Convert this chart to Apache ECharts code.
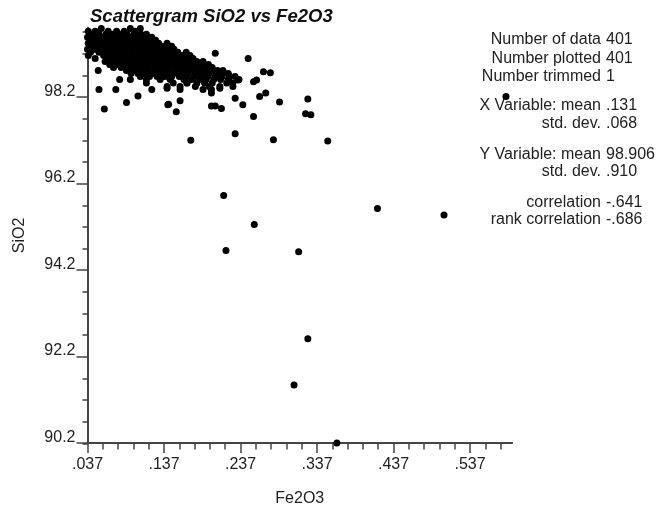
<!DOCTYPE html>
<html>
<head>
<meta charset="utf-8">
<script src="https://cdn.jsdelivr.net/npm/echarts@6/dist/echarts.min.js"></script>
<style>
html,body{margin:0;padding:0;background:#fff;}
#chart{width:657px;height:512px;}
</style>
</head>
<body>
<div id="chart"></div>
<script>
// ---------------- data ----------------
const titleText = 'Scattergram SiO2 vs Fe2O3';
const xName = 'Fe2O3';
const yName = 'SiO2';

const xMajor = [0.037, 0.137, 0.237, 0.337, 0.437, 0.537];
const xMinor = [0.037,0.057,0.077,0.097,0.117,0.137,0.157,0.177,0.197,0.217,0.237,0.257,0.277,0.297,0.317,0.337,0.357,0.377,0.397,0.417,0.437,0.457,0.477,0.497,0.517,0.537,0.557,0.577];
const yMajor = [90.2, 92.2, 94.2, 96.2, 98.2];
const yMinor = [90.2,90.7,91.2,91.7,92.2,92.7,93.2,93.7,94.2,94.7,95.2,95.7,96.2,96.7,97.2,97.7,98.2,98.7,99.2,99.7];

// dense cluster: rows of [SiO2, [Fe2O3 values]]
const clusterRows = [
  [99.78, [0.055, 0.093, 0.106]],
  [99.72, [0.038, 0.047, 0.064, 0.075, 0.085, 0.099]],
  [99.65, [0.041, 0.052, 0.061, 0.070, 0.080, 0.089, 0.098, 0.107, 0.114]],
  [99.58, [0.037, 0.046, 0.056, 0.065, 0.074, 0.084, 0.093, 0.102, 0.111, 0.121]],
  [99.51, [0.040, 0.050, 0.060, 0.069, 0.078, 0.088, 0.097, 0.106, 0.116, 0.126]],
  [99.44, [0.038, 0.046, 0.055, 0.064, 0.073, 0.083, 0.092, 0.101, 0.111, 0.120, 0.130, 0.141]],
  [99.37, [0.042, 0.051, 0.060, 0.069, 0.079, 0.088, 0.097, 0.106, 0.116, 0.125, 0.134, 0.143, 0.147]],
  [99.30, [0.037, 0.047, 0.056, 0.066, 0.075, 0.084, 0.093, 0.103, 0.112, 0.121, 0.130, 0.140, 0.150]],
  [99.23, [0.041, 0.052, 0.062, 0.071, 0.080, 0.090, 0.099, 0.108, 0.118, 0.127, 0.136, 0.146, 0.155, 0.166]],
  [99.16, [0.038, 0.058, 0.067, 0.077, 0.086, 0.095, 0.105, 0.114, 0.123, 0.133, 0.142, 0.151, 0.160, 0.171]],
  [99.09, [0.047, 0.063, 0.073, 0.082, 0.092, 0.101, 0.110, 0.120, 0.129, 0.138, 0.148, 0.157, 0.166, 0.175]],
  [99.02, [0.060, 0.069, 0.079, 0.088, 0.097, 0.107, 0.116, 0.125, 0.135, 0.144, 0.153, 0.163, 0.172, 0.180, 0.188]],
  [98.95, [0.066, 0.075, 0.085, 0.094, 0.103, 0.113, 0.122, 0.131, 0.141, 0.150, 0.159, 0.169, 0.178, 0.186, 0.195]],
  [98.88, [0.071, 0.081, 0.090, 0.100, 0.109, 0.118, 0.128, 0.137, 0.146, 0.156, 0.165, 0.174, 0.184, 0.192, 0.200]],
  [98.81, [0.051, 0.088, 0.097, 0.106, 0.115, 0.125, 0.134, 0.143, 0.153, 0.162, 0.171, 0.181, 0.190, 0.199, 0.207, 0.214]],
  [98.74, [0.094, 0.103, 0.112, 0.122, 0.131, 0.140, 0.150, 0.159, 0.168, 0.178, 0.187, 0.196, 0.205, 0.213, 0.221]],
  [98.67, [0.106, 0.118, 0.128, 0.138, 0.147, 0.157, 0.166, 0.176, 0.185, 0.194, 0.204, 0.213, 0.223, 0.230]],
  [98.60, [0.079, 0.093, 0.114, 0.132, 0.145, 0.163, 0.173, 0.183, 0.192, 0.202, 0.211, 0.221, 0.235]],
  [98.52, [0.114, 0.149, 0.167, 0.180, 0.190, 0.200, 0.219, 0.227]],
  [98.44, [0.141, 0.158, 0.178, 0.196, 0.210, 0.227]],
  [98.37, [0.052, 0.074, 0.121, 0.158, 0.188, 0.199]]
];

// scattered points: [Fe2O3, SiO2]
const scattered = [
  [0.204, 99.21], [0.247, 99.09], [0.267, 98.78], [0.276, 98.76], [0.254, 98.55],
  [0.258, 98.59], [0.234, 98.59], [0.262, 98.21], [0.270, 98.29], [0.230, 98.17],
  [0.240, 98.02], [0.254, 97.75], [0.288, 98.08], [0.199, 97.99], [0.204, 97.99],
  [0.212, 97.93], [0.142, 98.02], [0.153, 97.86], [0.158, 98.11], [0.103, 98.22],
  [0.088, 98.07], [0.059, 97.92], [0.143, 98.03], [0.070, 98.98], [0.088, 98.82],
  [0.210, 98.40], [0.199, 98.29], [0.141, 98.40], [0.167, 98.52]
];

const outliers = [
  [0.325, 98.15], [0.322, 97.81], [0.329, 97.79], [0.172, 97.20], [0.230, 97.35],
  [0.280, 97.21], [0.351, 97.18], [0.215, 95.92], [0.255, 95.25], [0.218, 94.65],
  [0.313, 94.62], [0.416, 95.62], [0.503, 95.47], [0.584, 98.21], [0.325, 92.61],
  [0.307, 91.54], [0.363, 90.20]
];

const statLabels = ['Number of data', 'Number plotted', 'Number trimmed',
  'X Variable: mean', 'std. dev.', 'Y Variable: mean', 'std. dev.',
  'correlation', 'rank correlation'];
const statValues = ['401', '401', '1', '.131', '.068', '98.906', '.910', '-.641', '-.686'];

// ---------------- build ----------------
const points = [];
clusterRows.forEach(function (r) { r[1].forEach(function (x) { points.push([x, r[0]]); }); });
scattered.forEach(function (p) { points.push(p); });
outliers.forEach(function (p) { points.push(p); });

const FONT = 'Liberation Sans, Arial, sans-serif';
const TXT = '#222';
const AX = '#444';
const statY = [40, 58.5, 77, 106, 123.5, 154.5, 172, 202.5, 220];

const graphics = [{
  type: 'text', x: 90, y: 16.5,
  style: { text: titleText, align: 'left', verticalAlign: 'middle',
    font: 'italic bold 18.5px ' + FONT, fill: '#111' }
}];
statLabels.forEach(function (lab, i) {
  graphics.push({ type: 'text', x: 601, y: statY[i],
    style: { text: lab, align: 'right', verticalAlign: 'middle', font: '16px ' + FONT, fill: TXT } });
  graphics.push({ type: 'text', x: 606, y: statY[i],
    style: { text: statValues[i], align: 'left', verticalAlign: 'middle', font: '16px ' + FONT, fill: TXT } });
});

const gridBox = { left: 87.5, top: 27.7, right: 144.9, bottom: 68.5, containLabel: false };
const XMIN = 0.037, XMAX = 0.592, YMIN = 90.2, YMAX = 99.8;

const chart = echarts.init(document.getElementById('chart'), null, { renderer: 'canvas' });
chart.setOption({
  animation: false,
  backgroundColor: '#fff',
  grid: [Object.assign({}, gridBox), Object.assign({}, gridBox)],
  xAxis: [{
    gridIndex: 0, type: 'value', min: XMIN, max: XMAX, position: 'bottom',
    name: xName, nameLocation: 'middle', nameGap: 48,
    nameTextStyle: { fontSize: 16, fontFamily: FONT, color: TXT },
    axisLine: { show: true, lineStyle: { color: AX, width: 2 } },
    axisTick: { show: true, length: 10, customValues: xMajor, lineStyle: { color: AX, width: 1.5 } },
    axisLabel: { show: true, customValues: xMajor, margin: 14, fontSize: 16, fontFamily: FONT, color: TXT,
      formatter: function (v) { return Number(v).toFixed(3).replace(/^0/, ''); } },
    splitLine: { show: false }
  }, {
    gridIndex: 1, type: 'value', min: XMIN, max: XMAX, position: 'bottom',
    axisLine: { show: false },
    axisTick: { show: true, length: 6, customValues: xMinor, lineStyle: { color: AX, width: 1.5 } },
    axisLabel: { show: false },
    splitLine: { show: false }
  }],
  yAxis: [{
    gridIndex: 0, type: 'value', min: YMIN, max: YMAX, position: 'left',
    name: yName, nameLocation: 'middle', nameGap: 60, nameRotate: 90,
    nameTextStyle: { fontSize: 16, fontFamily: FONT, color: TXT },
    axisLine: { show: true, lineStyle: { color: AX, width: 2 } },
    axisTick: { show: true, length: 11, customValues: yMajor, lineStyle: { color: AX, width: 1.5 } },
    axisLabel: { show: true, customValues: yMajor, margin: 12, fontSize: 16, fontFamily: FONT, color: TXT,
      verticalAlign: 'bottom', lineHeight: 11,
      formatter: function (v) { return Number(v).toFixed(1); } },
    splitLine: { show: false }
  }, {
    gridIndex: 1, type: 'value', min: YMIN, max: YMAX, position: 'left',
    axisLine: { show: false },
    axisTick: { show: true, length: 5, customValues: yMinor, lineStyle: { color: AX, width: 1.5 } },
    axisLabel: { show: false },
    splitLine: { show: false }
  }],
  series: [{
    type: 'scatter', xAxisIndex: 0, yAxisIndex: 0,
    symbol: 'circle', symbolSize: 7, clip: false,
    itemStyle: { color: '#000', opacity: 1, borderWidth: 0 },
    emphasis: { disabled: true },
    data: points
  }],
  graphic: graphics
});
</script>
</body>
</html>
